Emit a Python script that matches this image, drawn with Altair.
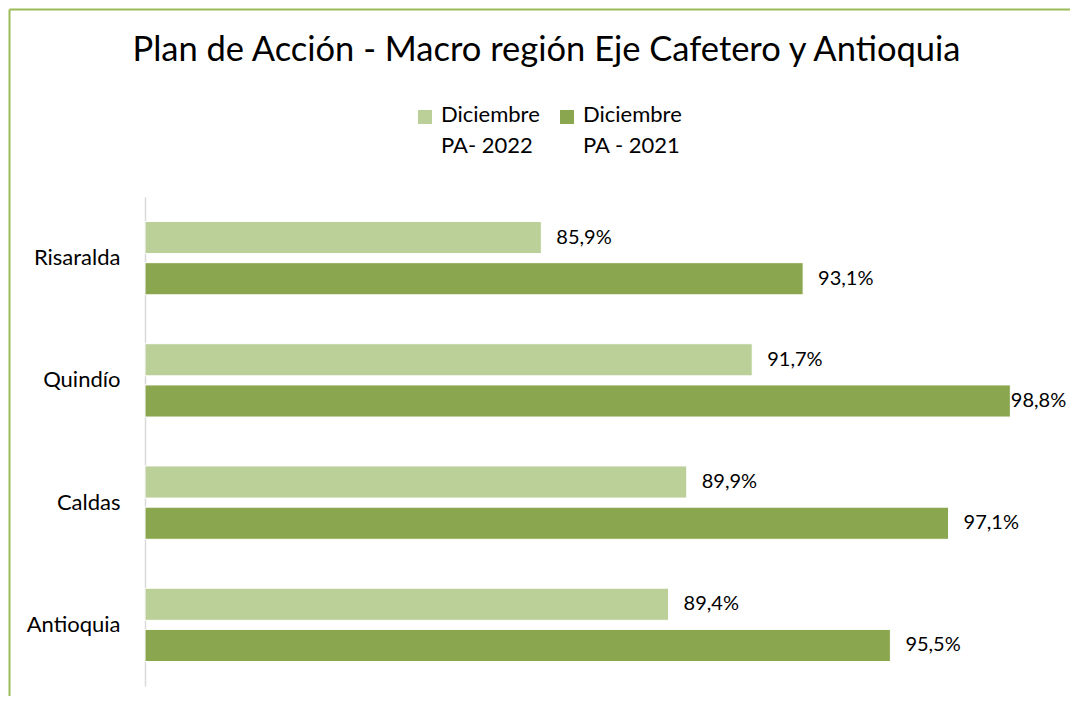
import altair as alt
import pandas as pd

regions = ["Risaralda", "Quindío", "Caldas", "Antioquia"]
series = ["Diciembre|PA- 2022", "Diciembre|PA - 2021"]
v2022 = [85.9, 91.7, 89.9, 89.4]
v2021 = [93.1, 98.8, 97.1, 95.5]
colors = ["#BBCF99", "#8AA64F"]
border_color = "#9BBB59"
FONT = "Lato"
X_MIN, X_MAX = 75, 100
LABEL_MAX = 98.4   # labels near the right edge are kept inside, as in the original

rows = []
for r, a, b in zip(regions, v2022, v2021):
    rows.append({"region": r, "serie": series[0], "valor": a})
    rows.append({"region": r, "serie": series[1], "valor": b})
df = pd.DataFrame(rows)

W, H = 909, 489

base = alt.Chart(df).encode(
    y=alt.Y("region:N", sort=regions,
            scale=alt.Scale(paddingInner=0.4, paddingOuter=0.2),
            axis=alt.Axis(title=None, ticks=False, domainColor="#D9D9D9", domainWidth=1.5,
                          labelFontSize=22, labelFont=FONT, labelColor="#000000",
                          labelPadding=25, labelOffset=-5)),
    yOffset=alt.YOffset("serie:N", sort=series, scale=alt.Scale(paddingInner=0.22)),
)

bars = base.mark_bar(stroke="white", strokeWidth=1).encode(
    x=alt.X("valor:Q", scale=alt.Scale(domain=[X_MIN, X_MAX], zero=False, nice=False),
            axis=None),
    x2=alt.datum(X_MIN),
    color=alt.Color("serie:N", sort=series, scale=alt.Scale(domain=series, range=colors),
                    legend=alt.Legend(title=None, orient="none", direction="horizontal",
                                      legendX=269, legendY=-91,
                                      symbolType="square", symbolSize=196,
                                      symbolStrokeWidth=0,
                                      labelFontSize=22, labelFont=FONT, labelColor="#000000",
                                      labelBaseline="alphabetic",
                                      labelExpr="split(datum.label, '|')",
                                      labelOffset=5, columnPadding=16)),
)

labels = base.transform_calculate(
    txt="replace(format(datum.valor, '.1f'), '.', ',') + '%'",
    pos=f"min(datum.valor, {LABEL_MAX})",
).mark_text(align="left", baseline="middle", dx=15, fontSize=20, font=FONT,
            color="#000000").encode(
    x=alt.X("pos:Q"),
    text="txt:N",
)

left_border = alt.Chart(pd.DataFrame({"k": [0]})).mark_rule(
    color=border_color, strokeWidth=2).encode(
    x=alt.value(-135.5), y=alt.value(-187.5), y2=alt.value(H + 200))
top_border = alt.Chart(pd.DataFrame({"k": [0]})).mark_rule(
    color=border_color, strokeWidth=2).encode(
    x=alt.value(-135.5), x2=alt.value(W + 200), y=alt.value(-187.5))

chart = alt.layer(bars, labels, left_border, top_border).properties(
    width=W, height=H,
    title=alt.Title("Plan de Acción - Macro región Eje Cafetero y Antioquia",
                    fontSize=34.5, font=FONT, fontWeight="normal", color="#000000",
                    anchor="middle", frame="group", dx=-53, offset=-60),
    padding={"left": 137, "top": 189, "right": 16, "bottom": 10},
    autosize=alt.AutoSizeParams(type="none"),
).configure(
    view=alt.ViewConfig(stroke=None),
    style={"guide-label": {"lineHeight": 31, "dy": 5}},
)

chart.save("out.html", embed_options={"renderer": "svg", "actions": False})
